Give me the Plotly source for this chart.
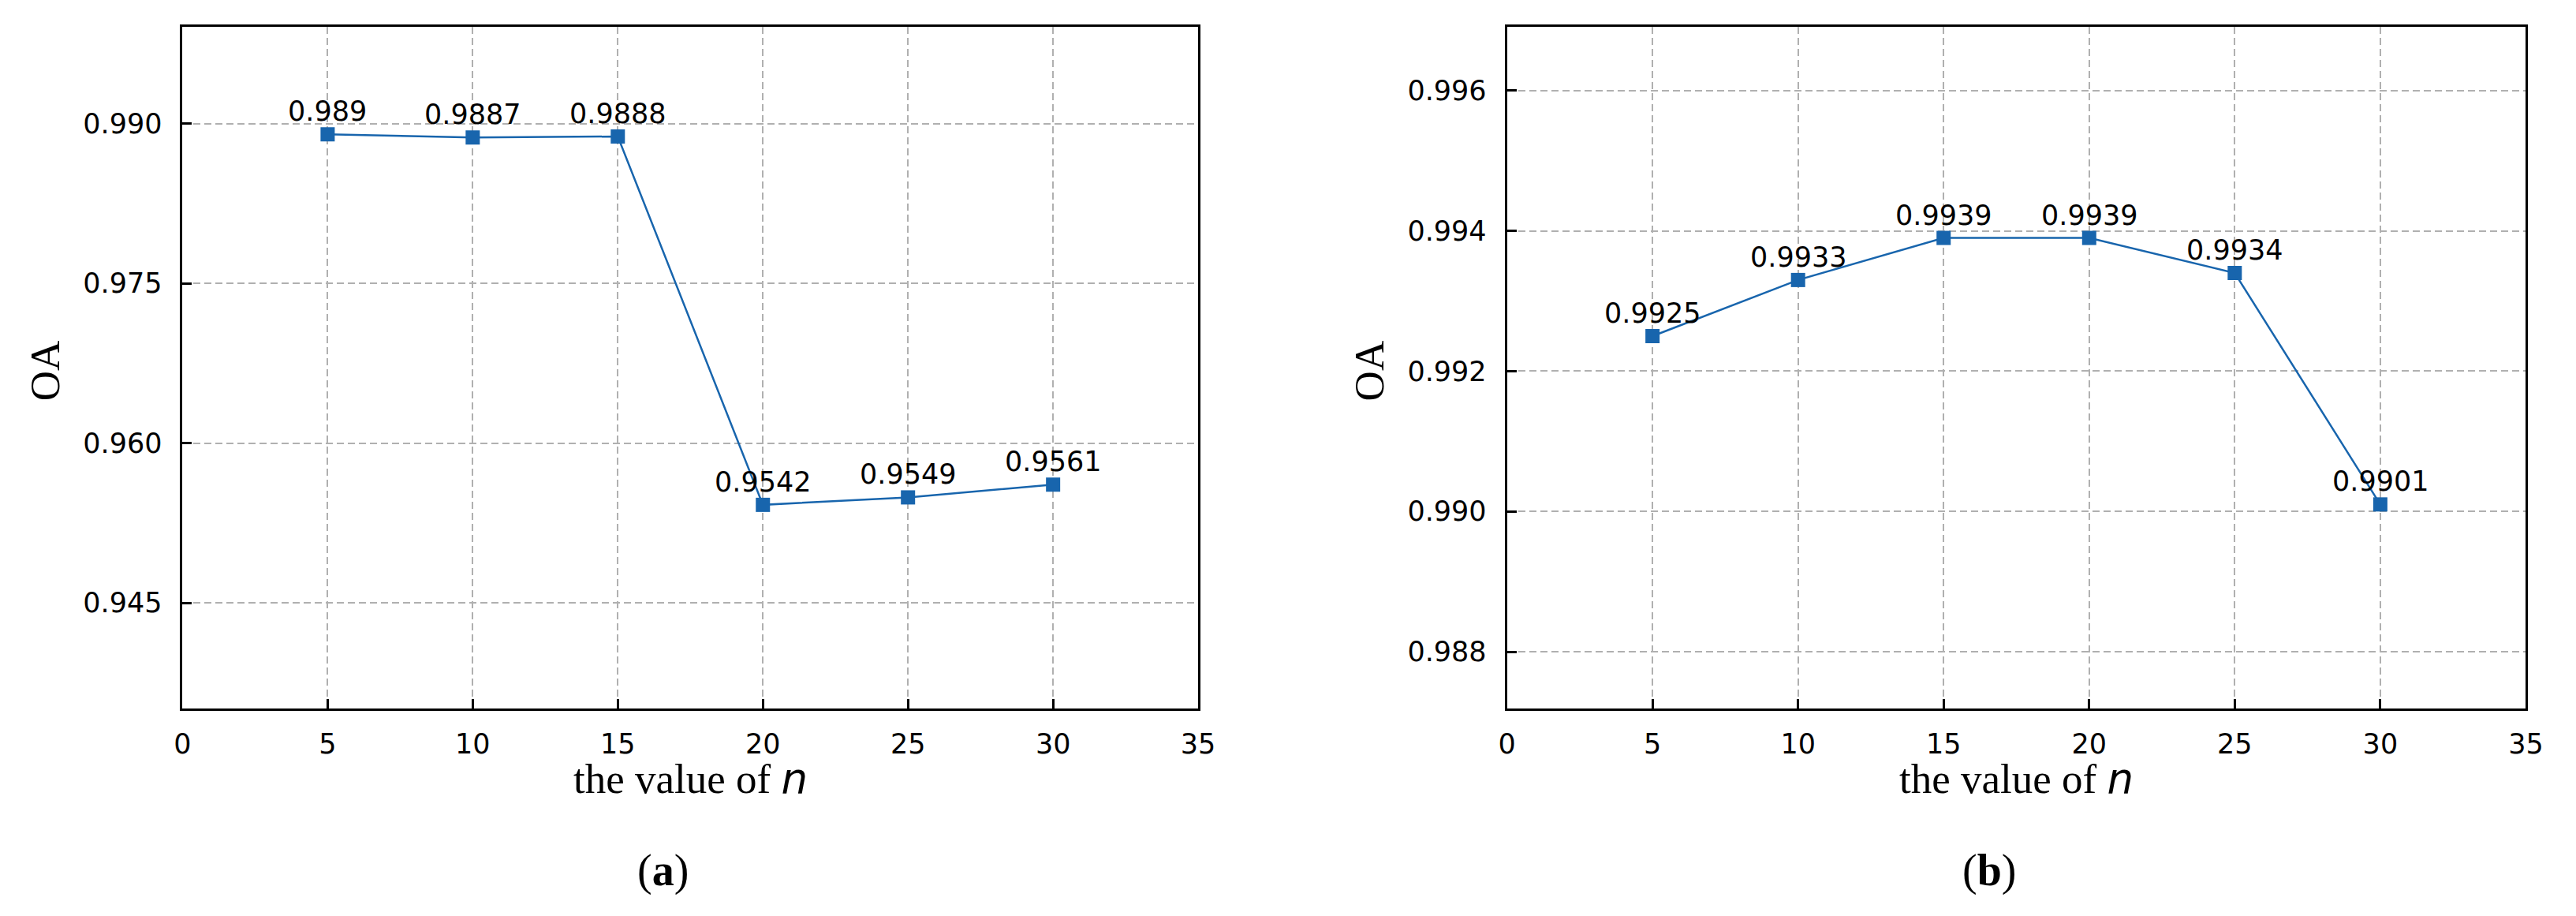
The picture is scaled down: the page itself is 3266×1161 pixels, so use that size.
import plotly.graph_objects as go

# ---- data ----
n_values = [5, 10, 15, 20, 25, 30]
oa_a = [0.989, 0.9887, 0.9888, 0.9542, 0.9549, 0.9561]
oa_b = [0.9925, 0.9933, 0.9939, 0.9939, 0.9934, 0.9901]
x_ticks = [0, 5, 10, 15, 20, 25, 30, 35]
y_ticks_a = [0.945, 0.960, 0.975, 0.990]
y_ticks_b = [0.988, 0.990, 0.992, 0.994, 0.996]
y_range_a = [0.93507, 0.99910]
y_range_b = [0.98719, 0.99691]
x_title = "the value of <i><span style=\"font-family:'DejaVu Sans'\">n</span></i>"
y_title = "OA"
panel_labels = ["(<b>a</b>)", "(<b>b</b>)"]

W, H = 3266, 1161
COLOR = "#1865AD"
TICKFONT = dict(family="DejaVu Sans", size=35, color="black")
SERIF = "Liberation Serif"

fig = go.Figure()

panels = [
    dict(xa="x", ya="y", data=oa_a, yt=y_ticks_a, yr=y_range_a, px=(222.7, 1523.5)),
    dict(xa="x2", ya="y2", data=oa_b, yt=y_ticks_b, yr=y_range_b, px=(1919, 3224)),
]
top_px, bot_px = 34, 898

for i, p in enumerate(panels):
    fig.add_trace(go.Scatter(
        x=n_values, y=p["data"], xaxis=p["xa"], yaxis=p["ya"],
        mode="lines+markers",
        line=dict(color=COLOR, width=2.5),
        marker=dict(symbol="square", size=18, color=COLOR),
        showlegend=False, hoverinfo="skip",
    ))
    for xv, yv in zip(n_values, p["data"]):
        fig.add_annotation(
            x=xv, y=yv, xref=p["xa"], yref=p["ya"], text=f"{yv:g}",
            showarrow=False, xanchor="center", yanchor="middle", yshift=29,
            font=dict(family="DejaVu Sans", size=35, color="black"),
        )
    axis_common = dict(
        showline=True, linewidth=3, linecolor="black", mirror=True,
        ticks="inside", ticklen=12, tickwidth=3, tickcolor="black",
        showgrid=True, gridcolor="#b0b0b0", gridwidth=2, griddash="9px,5px",
        zeroline=False, tickfont=TICKFONT,
    )
    suffix = "" if i == 0 else "2"
    x0, x1 = p["px"]
    fig.update_layout(**{
        f"xaxis{suffix}": dict(
            axis_common, domain=[x0 / W, x1 / W], range=[0, 35],
            tickmode="array", tickvals=x_ticks, ticktext=[str(t) for t in x_ticks],
            anchor=p["ya"], ticklabelstandoff=12,
        ),
        f"yaxis{suffix}": dict(
            axis_common, domain=[1 - bot_px / H, 1 - top_px / H], range=p["yr"],
            tickmode="array", tickvals=p["yt"], ticktext=[f"{t:.3f}" for t in p["yt"]],
            anchor=p["xa"], ticklabelstandoff=16,
        ),
    })
    cx = (x0 + x1) / 2
    # y axis title
    fig.add_annotation(
        x=(x0 - 176) / W, y=1 - 470 / H, xref="paper", yref="paper",
        text=y_title, textangle=-90, showarrow=False,
        xanchor="center", yanchor="middle",
        font=dict(family=SERIF, size=53, color="black"),
    )
    # x axis title
    fig.add_annotation(
        x=cx / W, y=1 - 986 / H, xref="paper", yref="paper",
        text=x_title, showarrow=False, xanchor="center", yanchor="middle",
        font=dict(family=SERIF, size=53, color="black"),
    )
    # panel label
    fig.add_annotation(
        x=(cx - 35) / W, y=1 - 1103 / H, xref="paper", yref="paper",
        text=panel_labels[i], showarrow=False, xanchor="center", yanchor="middle",
        font=dict(family=SERIF, size=56, color="black"),
    )

fig.update_layout(
    width=W, height=H, autosize=False,
    margin=dict(l=0, r=0, t=0, b=0, pad=0),
    paper_bgcolor="white", plot_bgcolor="white",
)

fig.write_html(
    "out.html",
    config={"displayModeBar": False},
    post_script="document.body.style.margin='0';document.body.style.overflow='hidden';",
)
